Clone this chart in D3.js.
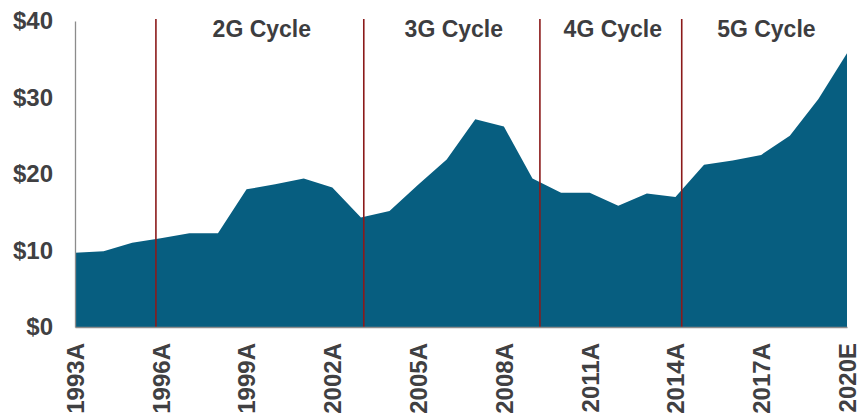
<!DOCTYPE html>
<html>
<head>
<meta charset="utf-8">
<script src="https://cdn.jsdelivr.net/npm/d3@7"></script>
<style>
  body { margin: 0; background: #fff; }
  svg { display: block; font-family: "Liberation Sans", Arial, sans-serif; }
</style>
</head>
<body>
<div id="chart"></div>
<script>
// data
var years = [1993, 1994, 1995, 1996, 1997, 1998, 1999, 2000, 2001, 2002,
             2003, 2004, 2005, 2006, 2007, 2008, 2009, 2010, 2011, 2012,
             2013, 2014, 2015, 2016, 2017, 2018, 2019, 2020];
var values = [9.7, 9.9, 11.0, 11.6, 12.25, 12.25, 18.0, 18.65, 19.4, 18.25,
              14.3, 15.15, 18.6, 21.9, 27.15, 26.2, 19.4, 17.55, 17.55, 15.85,
              17.45, 17.0, 21.2, 21.75, 22.5, 25.0, 29.8, 35.8];
var tickYears = [1993, 1996, 1999, 2002, 2005, 2008, 2011, 2014, 2017, 2020];
var tickLabels = ["1993A", "1996A", "1999A", "2002A", "2005A", "2008A", "2011A", "2014A", "2017A", "2020E"];
var yTicks = [0, 10, 20, 30, 40];
var cycleStarts = [1995.83, 2003.1, 2009.26, 2014.22];
var cycleNames = ["2G Cycle", "3G Cycle", "4G Cycle", "5G Cycle"];

var width = 857, height = 418;
var margin = {top: 21, right: 10, bottom: 91, left: 75};

var svg = d3.select("#chart").append("svg")
    .attr("width", width)
    .attr("height", height);

var x = d3.scaleLinear()
    .domain([1993, 2020])
    .range([margin.left, width - margin.right]);

var y = d3.scaleLinear()
    .domain([0, 40])
    .range([height - margin.bottom, margin.top]);

var data = years.map(function(d, i) { return {year: d, value: values[i]}; });

var area = d3.area()
    .x(function(d) { return x(d.year); })
    .y0(y(0))
    .y1(function(d) { return y(d.value); });

svg.append("path")
    .datum(data)
    .attr("fill", "#075e80")
    .attr("d", area);

// cycle dividers
svg.append("g").selectAll("line")
    .data(cycleStarts)
    .enter()
    .append("line")
    .attr("x1", function(d) { return x(d); })
    .attr("x2", function(d) { return x(d); })
    .attr("y1", y(0))
    .attr("y2", margin.top - 2)
    .attr("stroke", "#8b1a1a")
    .attr("stroke-width", 1.6);

// cycle labels, centered between dividers
svg.append("g").selectAll("text")
    .data(cycleNames)
    .enter()
    .append("text")
    .attr("x", function(d, i) {
        var a = cycleStarts[i];
        var b = i < cycleStarts.length - 1 ? cycleStarts[i + 1] : 2020;
        return x((a + b) / 2) + 2;
    })
    .attr("y", 37)
    .attr("text-anchor", "middle")
    .attr("font-size", "23px")
    .attr("font-weight", "bold")
    .attr("fill", "#3d3d3f")
    .text(function(d) { return d; });

// y axis
var yAxis = d3.axisLeft(y)
    .tickValues(yTicks)
    .tickSize(0)
    .tickSizeOuter(0)
    .tickPadding(22)
    .tickFormat(function(d) { return "$" + d; });

var gy = svg.append("g")
    .attr("transform", "translate(" + margin.left + ",0)")
    .call(yAxis);
gy.select(".domain").attr("stroke", "#8c8c8c").attr("stroke-width", 1.3);
gy.selectAll("text")
    .attr("font-family", "Liberation Sans, Arial, sans-serif")
    .attr("font-size", "24px")
    .attr("font-weight", "bold")
    .attr("fill", "#404042");

// x axis
var xAxis = d3.axisBottom(x)
    .tickValues(tickYears)
    .tickSize(0)
    .tickSizeOuter(0)
    .tickFormat(function(d, i) { return tickLabels[i]; });

var gx = svg.append("g")
    .attr("transform", "translate(0," + y(0) + ")")
    .call(xAxis);
gx.select(".domain").attr("stroke", "#8c8c8c").attr("stroke-width", 1.3);
gx.selectAll("text")
    .attr("font-family", "Liberation Sans, Arial, sans-serif")
    .attr("font-size", "24px")
    .attr("font-weight", "bold")
    .attr("fill", "#404042")
    .attr("transform", "rotate(-90)")
    .attr("text-anchor", "end")
    .attr("x", -16)
    .attr("y", 0)
    .attr("dy", "0.35em");
</script>
</body>
</html>
